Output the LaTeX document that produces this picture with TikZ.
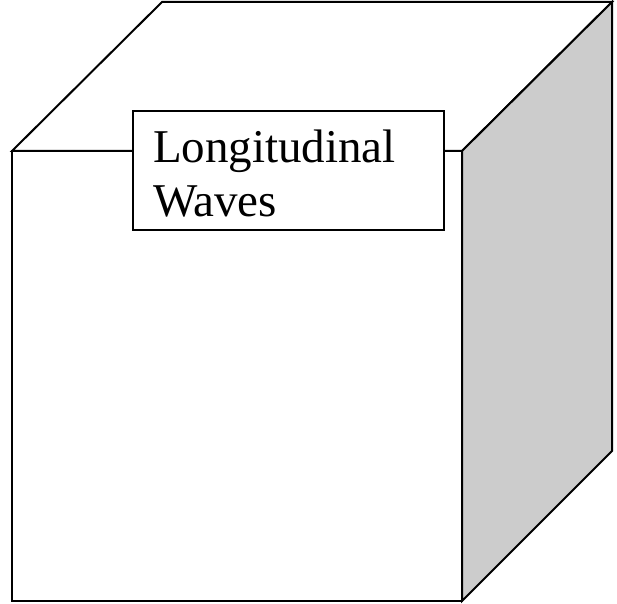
\documentclass[tikz,border=0pt]{standalone}
\usepackage{fontspec}
\setmainfont{Liberation Serif}
\usetikzlibrary{positioning}
\definecolor{ink}{gray}{0.0}
\definecolor{shade}{gray}{0.8}

\begin{document}
\begin{tikzpicture}[x=1pt, y=1pt, line width=2pt, line join=miter, font=\fontsize{47}{54}\selectfont]
  \useasboundingbox (0,0) rectangle (617,603);
  % corners of the cube
  \coordinate (fbl) at (12,2);
  \coordinate (fbr) at (462,2);
  \coordinate (ftl) at (12,452);
  \coordinate (ftr) at (462,452);
  \coordinate (btl) at (162,601);
  \coordinate (btr) at (612,601);
  \coordinate (bbr) at (612,152);
  % faces
  \draw[ink, fill=white] (fbl) rectangle (ftr);
  \draw[ink, fill=white] (ftl) -- (btl) -- (btr) -- (ftr) -- cycle;
  \draw[ink, fill=shade] (fbr) -- (ftr) -- (btr) -- (bbr) -- cycle;
  % label
  \node[draw=ink, fill=white, anchor=north west, inner xsep=20pt, inner ysep=0pt,
        text width=271pt, minimum height=119pt, align=left] (label) at (132,493)
        {\rule{0pt}{38pt}Longitudinal\\Waves};
\end{tikzpicture}
\end{document}
